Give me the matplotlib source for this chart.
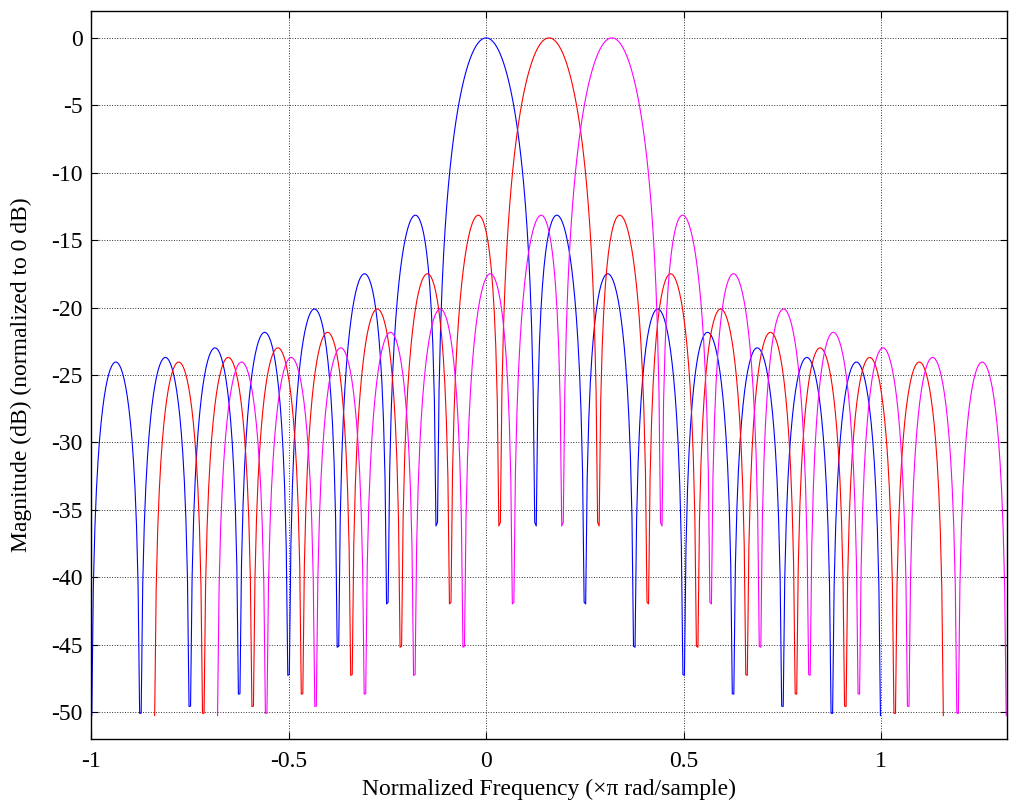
import numpy as np
import matplotlib
matplotlib.use("Agg")
import matplotlib.pyplot as plt

# rectangular window, 16 samples
window = np.ones(16)
# modulation frequencies (rad/sample) for the three curves
shifts = [0.0, 0.5, 1.0]
colors = ["#0000ff", "#ff0000", "#ff00ff"]

xticks = [-1, -0.5, 0, 0.5, 1]
yticks = [0, -5, -10, -15, -20, -25, -30, -35, -40, -45, -50]

# frequency grid (x pi rad/sample), half-bin offset
nfft = 512
f = (np.arange(nfft) + 0.5) / (nfft / 2) - 1
n = np.arange(len(window))
H = np.abs(np.exp(-1j * np.pi * np.outer(f, n)) @ window)
H_db = 20 * np.log10(H / H.max())

plt.rcParams["font.family"] = ["Liberation Serif", "DejaVu Serif"]
plt.rcParams["font.size"] = 17

fig = plt.figure(figsize=(10.09, 8.07), dpi=100)
ax = fig.add_axes([0.0902, 0.0843, 0.9078, 0.9021])

for s, c in zip(shifts, colors):
    ax.plot(f + s / np.pi, H_db, color=c, lw=0.8)

ax.set_xlim(-1, 1 + 1 / np.pi)
ax.set_ylim(-52, 2)
ax.set_xticks(xticks)
ax.set_xticklabels([f"{t:g}" for t in xticks])
ax.set_yticks(yticks)
ax.set_yticklabels([f"{t:g}" for t in yticks])
ax.tick_params(direction="in", top=True, right=True, length=5, width=0.8)
ax.tick_params(axis="x", pad=9)
ax.tick_params(axis="y", pad=6)
ax.grid(True, color="#333333", linestyle=":", linewidth=0.7)
for sp in ax.spines.values():
    sp.set_linewidth(1.0)

ax.set_xlabel("Normalized Frequency (\u00d7\u03c0 rad/sample)", va="center")
ax.set_ylabel("Magnitude (dB) (normalized to 0 dB)", va="center", ha="center")
ax.xaxis.set_label_coords(0.5, -0.069)
ax.yaxis.set_label_coords(-0.0765, 0.5)

fig.savefig("out.png", dpi=100)
